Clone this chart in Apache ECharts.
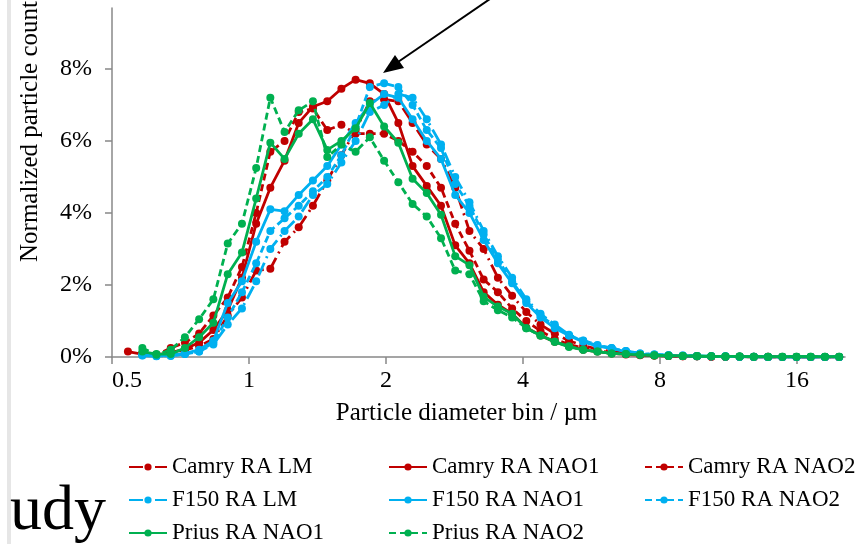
<!DOCTYPE html>
<html><head><meta charset="utf-8">
<script src="https://cdn.jsdelivr.net/npm/echarts@6/dist/echarts.min.js"></script>
<style>html,body{margin:0;padding:0;background:#fff}#c{width:864px;height:544px}</style>
</head><body><div id="c"></div>
<script>
// APS channel midpoints (µm)
const bins = [0.542,0.583,0.626,0.673,0.723,0.777,0.835,0.898,0.965,1.037,1.114,1.197,1.286,1.382,1.486,1.596,1.715,1.843,1.981,2.129,2.288,2.458,2.642,2.839,3.051,3.278,3.523,3.786,4.068,4.371,4.698,5.048,5.425,5.829,6.264,6.732,7.234,7.774,8.354,8.977,9.647,10.37,11.14,11.97,12.86,13.82,14.86,15.96,17.15,18.43,19.81];
const seriesNames = ['Camry RA LM','Camry RA NAO1','Camry RA NAO2','F150 RA LM','F150 RA NAO1','F150 RA NAO2','Prius RA NAO1','Prius RA NAO2'];
const camryLM   = [0.15,0.08,0.05,0.1,0.2,0.3,0.5,1.15,1.65,2.4,2.45,3.2,3.6,4.2,4.9,5.6,6.3,7.1,7.15,7.1,6.5,5.9,5.5,4.7,3.5,3.0,2.2,1.7,1.25,0.9,0.65,0.45,0.32,0.22,0.15,0.1,0.07,0.05,0.04,0.03,0.02,0.02,0.01,0.01,0.01,0.01,0,0,0,0,0];
const camryNAO1 = [null,0.1,0.06,0.12,0.22,0.4,0.75,1.3,2.2,3.7,4.7,5.45,6.5,6.95,7.1,7.45,7.7,7.6,7.3,6.5,5.3,4.75,4.2,3.1,2.6,1.8,1.45,1.2,0.82,0.6,0.42,0.3,0.2,0.15,0.1,0.07,0.05,0.04,0.03,0.02,0.02,0.01,0.01,0.01,0,0,0,0,0,0,0];
const camryNAO2 = [null,0.1,0.06,0.25,0.4,0.65,1.15,1.65,2.5,4.0,5.7,6.0,6.8,6.9,6.3,6.45,6.2,6.2,6.2,6.0,5.7,5.3,4.7,3.7,2.95,2.15,1.8,1.35,1.0,0.72,0.5,0.35,0.25,0.17,0.12,0.08,0.06,0.04,0.03,0.02,0.02,0.01,0.01,0.01,0,0,0,0,0,0,0];
const f150LM    = [null,0.04,0.02,0.04,0.08,0.15,0.35,0.9,1.35,2.1,3.0,3.5,3.9,4.5,4.8,5.4,6.0,6.8,7.0,7.3,7.2,6.6,5.9,5.0,4.3,3.5,2.8,2.2,1.6,1.2,0.9,0.62,0.46,0.33,0.25,0.17,0.1,0.07,0.05,0.04,0.03,0.02,0.02,0.01,0.01,0,0,0,0,0,0];
const f150NAO1  = [null,0.05,0.03,0.05,0.1,0.2,0.45,1.5,2.1,3.2,4.1,4.05,4.5,4.9,5.3,5.9,6.5,7.0,7.3,7.2,6.6,6.0,5.5,4.5,4.0,3.25,2.6,2.05,1.5,1.1,0.8,0.6,0.42,0.3,0.24,0.15,0.08,0.06,0.04,0.03,0.02,0.02,0.01,0.01,0,0,0,0,0,0,0];
const f150NAO2  = [null,0.06,0.03,0.03,0.08,0.15,0.4,1.1,1.8,2.6,3.5,3.85,4.2,4.6,5.0,5.6,6.4,7.5,7.6,7.5,7.0,6.3,5.8,4.8,4.2,3.4,2.7,2.1,1.55,1.15,0.85,0.6,0.45,0.32,0.24,0.17,0.1,0.07,0.05,0.04,0.03,0.02,0.02,0.01,0.01,0,0,0,0,0,0];
const priusNAO1 = [null,0.15,0.08,0.08,0.25,0.55,0.95,2.3,2.9,4.4,5.95,5.5,6.2,6.6,5.75,6.0,6.35,7.05,6.4,5.95,4.95,4.55,3.95,2.8,2.55,1.67,1.4,1.2,0.8,0.6,0.42,0.28,0.2,0.15,0.1,0.08,0.06,0.05,0.04,0.03,0.03,0.02,0.02,0.02,0.01,0.01,0.01,0.01,0.01,0.01,0.01];
const priusNAO2 = [null,0.25,0.06,0.2,0.55,1.05,1.6,3.15,3.7,5.25,7.2,6.25,6.85,7.1,5.55,5.9,5.7,6.1,5.45,4.85,4.25,3.9,3.3,2.4,2.3,1.55,1.3,1.1,0.8,0.6,0.42,0.3,0.2,0.15,0.1,0.08,0.06,0.04,0.03,0.03,0.02,0.02,0.01,0.01,0.01,0.01,0.01,0.01,0.01,0.01,0.01];
const xTickValues = [0.5,1,2,4,8,16];
const yTickValues = [0,2,4,6,8];

const allData = [camryLM,camryNAO1,camryNAO2,f150LM,f150NAO1,f150NAO2,priusNAO1,priusNAO2];
const RED='#C00000', BLUE='#00B0F0', GREEN='#00B050';
const colors = [RED,RED,RED,BLUE,BLUE,BLUE,GREEN,GREEN];
const LM_DASH=[14,5,2,5], NAO2_DASH=[7,4];
const dashes = [LM_DASH,'solid',NAO2_DASH,LM_DASH,'solid',NAO2_DASH,'solid',NAO2_DASH];
const FONT = '"Liberation Serif","Times New Roman",serif';

const series = seriesNames.map((n,i)=>({
  name:n, type:'line',
  data: bins.map((b,k)=> allData[i][k]==null ? null : [b, allData[i][k]]),
  symbol:'circle', symbolSize:8,
  itemStyle:{color:colors[i]},
  lineStyle:{color:colors[i], width:2.8, type:dashes[i]},
  emphasis:{disabled:true}, animation:false, z: 2+i
}));

function legendCol(names,left){
  return {orient:'vertical', left:left, top:455, height:140, width:260, itemWidth:38, itemHeight:9, itemGap:9,
    data:names, textStyle:{fontFamily:FONT, fontSize:23, color:'#000', lineHeight:24},
    selectedMode:false, padding:0};
}

const chart = echarts.init(document.getElementById('c'));
chart.setOption({
  animation:false,
  backgroundColor:'#fff',
  grid:{left:112, right:19, top:8, bottom:187},
  xAxis:{type:'log', logBase:2, min:0.5, max:20.4,
    axisLine:{lineStyle:{color:'#888', width:1.5}},
    axisTick:{show:true, length:7, customValues:xTickValues, lineStyle:{color:'#888', width:1.5}},
    axisLabel:{customValues:xTickValues, color:'#000', fontFamily:FONT, fontSize:24, margin:12,
      alignMinLabel:'left', formatter:v=>String(v)},
    splitLine:{show:false}, minorTick:{show:false},
    name:'Particle diameter bin / µm', nameLocation:'middle', nameGap:44,
    nameTextStyle:{fontFamily:FONT, fontSize:25, color:'#000', padding:[0,24,0,0]}
  },
  yAxis:{type:'value', min:0, max:9.69,
    axisLine:{show:true, lineStyle:{color:'#888', width:1.5}},
    axisTick:{show:true, length:7, customValues:yTickValues, lineStyle:{color:'#888', width:1.5}},
    axisLabel:{customValues:yTickValues, color:'#000', fontFamily:FONT, fontSize:24, margin:20,
      formatter:v=>v+'%'},
    splitLine:{show:false}
  },
  legend:[
    legendCol(['Camry RA LM','F150 RA LM','Prius RA NAO1'],128),
    legendCol(['Camry RA NAO1','F150 RA NAO1','Prius RA NAO2'],388),
    legendCol(['Camry RA NAO2','F150 RA NAO2'],644)
  ],
  graphic:[
    {type:'rect', left:7, top:0, shape:{width:4, height:544}, style:{fill:'#e6e6e6'}, z:0},
    {type:'text', x:30, y:262, rotation:Math.PI/2,
      style:{text:'Normalized particle count', font:'25px "Liberation Serif"', fill:'#000', align:'left', verticalAlign:'middle'}},
    {type:'text', x:106, y:544,
      style:{text:'udy', font:'64px "Liberation Serif"', fill:'#000', align:'right', verticalAlign:'bottom'}},
    {type:'line', shape:{x1:398, y1:62, x2:506, y2:-12}, style:{stroke:'#000', lineWidth:2}, z:100},
    {type:'polygon', shape:{points:[[383,73],[395,55],[404,68]]}, style:{fill:'#000'}, z:100}
  ],
  series: series
});
</script></body></html>
